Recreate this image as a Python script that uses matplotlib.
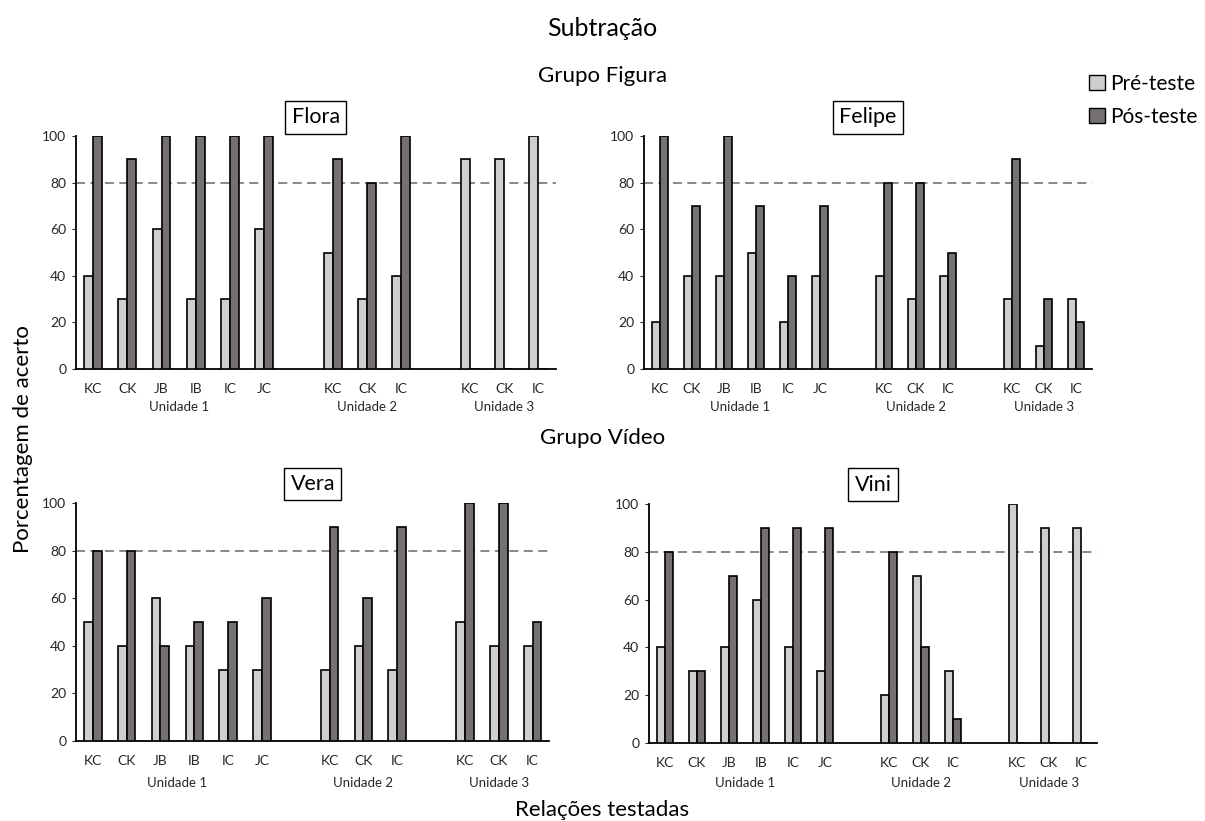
import numpy as np
import matplotlib.pyplot as plt
from matplotlib.patches import Patch

plt.rcParams['font.family'] = ['Lato', 'DejaVu Sans']

# relations tested, grouped by unit
relacoes = ['KC', 'CK', 'JB', 'IB', 'IC', 'JC', 'KC', 'CK', 'IC', 'KC', 'CK', 'IC']
posicoes = [0, 1, 2, 3, 4, 5, 7, 8, 9, 11, 12, 13]
unidades = ['Unidade 1', 'Unidade 2', 'Unidade 3']
unidade_centros = [2.5, 8, 12]

flora_pre = [40, 30, 60, 30, 30, 60, 50, 30, 40, 90, 90, 100]
flora_pos = [100, 90, 100, 100, 100, 100, 90, 80, 100, 0, 0, 0]
felipe_pre = [20, 40, 40, 50, 20, 40, 40, 30, 40, 30, 10, 30]
felipe_pos = [100, 70, 100, 70, 40, 70, 80, 80, 50, 90, 30, 20]
vera_pre = [50, 40, 60, 40, 30, 30, 30, 40, 30, 50, 40, 40]
vera_pos = [80, 80, 40, 50, 50, 60, 90, 60, 90, 100, 100, 50]
vini_pre = [40, 30, 40, 60, 40, 30, 20, 70, 30, 100, 90, 90]
vini_pos = [80, 30, 70, 90, 90, 90, 80, 40, 10, 0, 0, 0]

criterio = 80

cor_pre = '#d0cece'
cor_pos = '#767171'
cor_txt = '#262626'

fig = plt.figure(figsize=(12.05, 8.21), dpi=100)

paineis = [
    ('Flora', flora_pre, flora_pos, [0.063, 0.5505, 0.398, 0.2838], 27),
    ('Felipe', felipe_pre, felipe_pos, [0.5344, 0.5505, 0.3718, 0.2838], 27),
    ('Vera', vera_pre, vera_pos, [0.063, 0.0974, 0.393, 0.2899], 30),
    ('Vini', vini_pre, vini_pos, [0.5386, 0.095, 0.3718, 0.2911], 29),
]

w = 0.26
x = np.array(posicoes)
for nome, pre, pos, rect, off in paineis:
    ax = fig.add_axes(rect)
    ax.bar(x - w / 2, pre, width=w, color=cor_pre, edgecolor='black', linewidth=1.2, zorder=3)
    ax.bar(x + w / 2, pos, width=w, color=cor_pos, edgecolor='black', linewidth=1.2, zorder=3)
    ax.axhline(criterio, color='#7f7f7f', linestyle=(0, (5, 3)), linewidth=1.3, zorder=2)
    ax.set_xlim(-0.5, 13.5)
    ax.set_ylim(0, 100)
    ax.set_yticks([0, 20, 40, 60, 80, 100])
    ax.set_xticks(posicoes)
    ax.set_xticklabels(relacoes)
    ax.tick_params(axis='x', length=0, pad=10, labelsize=10, colors=cor_txt)
    ax.tick_params(axis='y', length=3, pad=4, labelsize=10, colors=cor_txt)
    for s in ['top', 'right']:
        ax.spines[s].set_visible(False)
    for s in ['left', 'bottom']:
        ax.spines[s].set_color('black')
        ax.spines[s].set_linewidth(1.3)
    ax.spines['left'].set_zorder(4)
    for u, c in zip(unidades, unidade_centros):
        ax.annotate(u, xy=(c, 0), xycoords=('data', 'axes fraction'),
                    xytext=(0, -off), textcoords='offset points',
                    ha='center', va='center', fontsize=9.5, color=cor_txt)
    ax.text(0.5, 1.0 + 0.08, nome, transform=ax.transAxes, ha='center', va='center',
            fontsize=15.5, bbox=dict(boxstyle='square,pad=0.3', facecolor='white',
                                     edgecolor='black', linewidth=1))

fig.text(0.5, 0.965, 'Subtração', ha='center', va='center', fontsize=18)
fig.text(0.5, 0.908, 'Grupo Figura', ha='center', va='center', fontsize=16)
fig.text(0.5, 0.467, 'Grupo Vídeo', ha='center', va='center', fontsize=16)
fig.text(0.5, 0.014, 'Relações testadas', ha='center', va='center', fontsize=16)
fig.text(0.019, 0.465, 'Porcentagem de acerto', ha='center', va='center',
         rotation=90, fontsize=16)

# legend
handles = [Patch(facecolor=cor_pre, edgecolor='black', label='Pré-teste'),
           Patch(facecolor=cor_pos, edgecolor='black', label='Pós-teste')]
fig.legend(handles=handles, loc='upper right', bbox_to_anchor=(1.004, 0.925),
           frameon=False, fontsize=15, handlelength=0.75, handleheight=0.75,
           handletextpad=0.25, labelspacing=0.6, borderaxespad=0.2)

fig.savefig('out.png', dpi=100)
